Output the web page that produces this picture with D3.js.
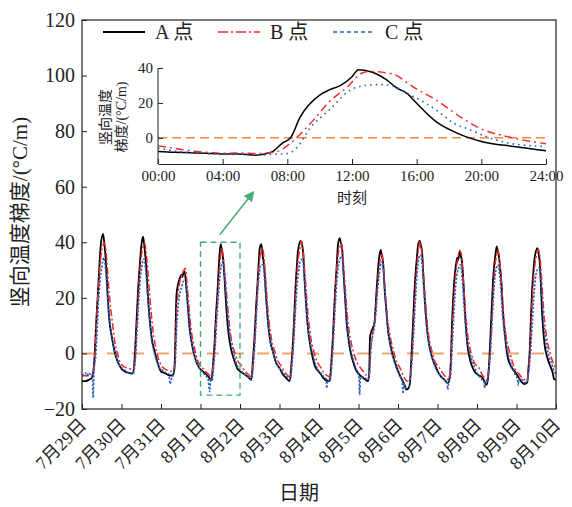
<!DOCTYPE html>
<html>
<head>
<meta charset="utf-8">
<script src="https://cdn.jsdelivr.net/npm/d3@7"></script>
<style>
  body { margin: 0; background: #fff; }
  text { font-family: "Liberation Serif", "Noto Sans CJK SC", serif; fill: #222; }
</style>
</head>
<body>
<svg id="chart"></svg>
<script>
// ---- data ----
const dayLabels = ['7月29日', '7月30日', '7月31日', '8月1日', '8月2日', '8月3日', '8月4日',
  '8月5日', '8月6日', '8月7日', '8月8日', '8月9日', '8月10日']
const mainYTicks = [-20, 0, 20, 40, 60, 80, 100, 120]
const insetYTicks = [0, 20, 40]
const insetXTicks = [0, 4, 8, 12, 16, 20, 24]
const insetXLabels = ['00:00', '04:00', '08:00', '12:00', '16:00', '20:00', '24:00']
const legendNames = ['A 点', 'B 点', 'C 点']

// each day: [hour, gradient]
const aDays = [
  [[0,-10],[2,-10],[4,-9.5],[5.7,-9],[7,-6],[7.7,-0.5],[8.7,12],[9.7,22],[10.6,32],[11.4,39],[12.8,43],[13.5,40],[14.4,34],[15.8,18.7],[16.8,11],[17.9,6.7],[19.5,1.5],[20.9,-1.7],[22.5,-4]],
  [[0,-5.5],[2,-6.5],[5,-7.1],[7,-7.2],[8,-1.7],[9,10],[10,22],[11,31],[12.1,39],[13.1,42],[14,38],[15.1,30.7],[16,21],[17.1,12.7],[18.5,5],[20.2,0.6],[22,-3.5]],
  [[0,-6.5],[2,-7],[4.3,-7.7],[6.3,-8],[7.5,-7.5],[8.3,-4],[9.4,21],[10.4,25],[11.4,27],[12.4,28.3],[13,27.5],[13.6,29],[14.4,29.5],[15.2,25],[16.4,16.3],[17.4,9],[18.5,4.3],[20,0],[21.5,-3],[23,-5]],
  [[1.5,-6.5],[3.5,-7.5],[5,-8.5],[6.6,-9.7],[7.6,-4],[8.6,4.3],[9.4,14],[10.3,22],[11,30],[11.7,36.7],[12.3,39.3],[13,37],[13.7,34.3],[14.7,26],[15.7,16.3],[16.7,9],[17.7,4.3],[19,0.5],[20.8,-3],[22.5,-5.5]],
  [[1.8,-7.1],[4.8,-8.4],[6.9,-9.5],[7.9,-2],[8.9,6.7],[9.8,17],[10.6,24.7],[11.3,32],[12,37.9],[13,39.3],[13.8,35],[14.6,31.9],[15.8,21],[17,11.5],[18.5,4],[20,0.6],[22,-3.5]],
  [[0.1,-5.3],[2,-7.5],[4.1,-8.9],[6.2,-10],[7.2,-4],[8.2,4.3],[9,14],[9.8,24.7],[10.5,31],[11.2,36.7],[12.9,40.5],[14.3,36.7],[15.3,26],[16.3,16.3],[17.3,9],[18.3,4.3],[20,-1],[21.5,-4.5],[23,-6]],
  [[0.7,-7.1],[2.7,-8.9],[4.8,-9.8],[6.5,-10],[7.5,-3],[8.5,6.7],[9.3,17],[10,24.7],[10.8,32],[11.5,39],[12.6,41.5],[13.2,40],[14,37.9],[15,28],[16,18.7],[16.8,11],[17.6,6.7],[19,1],[20.7,-3],[22.5,-6]],
  [[0.7,-7.7],[3.7,-9.2],[5.8,-10],[6.5,-7],[7,6],[7.8,7.9],[9,9.5],[9.8,11.5],[10.3,16],[10.9,22],[11.7,29],[12.5,34.3],[13.5,37.3],[14.2,35],[14.9,33],[16,22],[17,15],[18,8],[19,4.3],[20.5,0],[22,-3]],
  [[1,-7.7],[2.5,-9.5],[4,-11.4],[5,-13],[6.1,-12.7],[7.1,-11.4],[8.1,-2],[9.1,10.3],[9.8,20],[10.6,28.3],[11.4,34],[12.2,39],[13.2,40.5],[13.8,39],[14.6,36.7],[15.6,26],[16.6,16.3],[17.8,8],[19.3,1.9],[21,-2],[23.3,-5.3]],
  [[1.3,-7.7],[4.3,-9.5],[6.3,-10.7],[7.5,-8],[8,-4],[8.8,10.3],[10,24.7],[10.8,30],[11.5,33],[12,34.5],[12.5,33.5],[13.5,36.7],[14.2,35],[14.9,33],[16.1,22],[17,12],[18.2,3],[19.3,-1],[20.6,-4],[22.5,-6.5]],
  [[0.6,-7.7],[3.5,-8.9],[4.5,-10],[5.7,-11.4],[6.7,-8.9],[7.5,-2],[8.3,7.9],[9,17],[9.7,25.9],[10.5,32],[11.2,35.5],[12,38.5],[12.6,37],[13.2,35.5],[14,31],[14.8,25.9],[15.8,15],[16.8,7.9],[17.8,2],[18.8,-1.7],[20.5,-4.5],[22.9,-6.5]],
  [[1.2,-8.5],[2.7,-10],[4.7,-11],[6.5,-10.5],[7.3,-5],[8,0.6],[8.7,12],[9.4,22],[10.2,29],[11,34.3],[12.7,37.9],[13.4,36],[14.1,33],[14.8,25],[15.5,15],[16.3,8],[17.1,3],[18.5,-1],[20.1,-4],[22,-7],[22.8,-9.2],[24,-9.5]]
]

const bDays = [
  [[0,-8],[2,-8],[4,-8],[5.8,-8],[7.2,-5],[8,2],[9,14],[10,24],[11,32],[12,37],[13.5,39.7],[14.5,37],[15.5,30],[16.5,22],[17.5,16],[18.7,10],[20,4],[21.8,-0.5],[23,-3]],
  [[1,-4.5],[3,-5.2],[5,-5.5],[7,-5.8],[8.2,-3],[9,6],[10,18],[11,28],[12,35],[13,38],[14.1,39.7],[15,36],[16,30],[17,22],[18,15],[19,9],[20.5,3],[22,-1],[23.5,-3.5]],
  [[1,-5],[3,-5.8],[5,-6.3],[7,-6.5],[8.4,-4],[9.5,16],[10.5,22],[11.5,26],[12.5,28],[13.5,29.5],[14.8,30.7],[15.7,26],[16.7,19],[17.7,12],[18.7,7],[20,3],[21.5,-1],[23,-3.5]],
  [[1,-5],[3,-6.5],[5,-7.5],[6.7,-8.5],[7.7,-4],[8.7,3],[9.5,12],[10.4,20],[11.2,28],[12,34],[12.8,37.9],[13.6,36],[14.5,31],[15.5,24],[16.5,17],[17.5,11],[18.5,6],[19.5,3],[21,0],[22.5,-2.5]],
  [[1,-4.5],[3,-6.5],[5,-7.5],[7,-8.5],[8,-3],[9,5],[10,16],[11,27],[12,34],[13.5,38],[14.3,36],[15.2,30],[16.2,22],[17.2,14],[18.2,9],[19.5,4],[21,1],[22.5,-2]],
  [[1,-4.5],[3,-6.5],[5,-8],[6.5,-8.5],[7.5,-3],[8.5,5],[9.4,16],[10.3,26],[11.2,33],[12.2,37],[13.5,40.3],[14.4,37],[15.3,30],[16.3,22],[17.3,14],[18.3,9],[19.5,4],[21,0.5],[22.5,-2.5]],
  [[1,-5],[3,-7],[5,-8],[6.7,-8.5],[7.7,-3],[8.7,7],[9.6,18],[10.5,28],[11.5,35],[12.5,38],[13.5,39.7],[14.3,37],[15.3,29],[16.3,21],[17.3,13],[18.3,8],[19.5,4],[21,0.5],[22.5,-2.5]],
  [[1,-5],[3,-6.5],[5,-8],[6.3,-8.5],[7.2,-2],[8,5],[9.2,9],[10.2,13],[11,20],[12,28],[13,33],[14,36.1],[14.8,34],[15.7,27],[16.7,19],[17.7,12],[18.7,8],[20,4],[21.5,0.5],[23,-3]],
  [[1,-5],[2.5,-7],[4,-9],[5.5,-10],[7.3,-9.5],[8.3,-2],[9.3,8],[10.2,20],[11,28],[12,35],[13.5,40.2],[14.3,37],[15.3,30],[16.3,22],[17.3,14],[18.3,8],[19.5,3.5],[21,0],[22.5,-3]],
  [[1,-5],[3,-7],[5,-8.5],[6.5,-9.5],[7.8,-6],[8.6,3],[9.5,15],[10.5,25],[11.3,30],[12.3,34],[13.5,37],[14.4,36],[15.3,30],[16.3,21],[17.3,13],[18.3,7],[19.5,2.5],[21,-1],[22.5,-3.5]],
  [[1,-5],[3,-7.5],[5,-9],[6,-9.5],[7,-6],[7.8,-1],[8.6,6],[9.4,16],[10.2,26],[11,32],[12,35.5],[12.8,37.3],[13.6,34],[14.5,28],[15.5,20],[16.5,12],[17.5,7],[18.7,3],[20,0],[21.5,-3],[23,-5.5]],
  [[1,-7],[3,-8.5],[5,-9.5],[6.5,-9.5],[7.5,-4],[8.3,2],[9.1,13],[10,24],[11,31],[12,35],[13.3,37.3],[14.2,35],[15,29],[16,20],[17,12],[18,7],[19,3.5],[20.5,0],[22,-3],[24,-5.5]]
]

const cDays = [
  [[0,-8],[1,-7.5],[2,-7],[3,-8],[4,-7],[5,-7.5],[6.2,-7],[6.8,-16],[7.3,-6],[8.2,-2],[9,6],[10,18],[11,26],[12,31],[13.2,34.4],[14,32],[15,25],[16,17],[17,11],[18,6],[19.5,2],[21,-1.5],[23,-4.5]],
  [[1,-5.5],[3,-6.5],[5,-7],[7,-7.5],[8.3,-3],[9.3,6],[10.3,17],[11.3,26],[12.3,31],[13.5,34],[14.5,31],[15.5,24],[16.5,16],[17.5,9],[18.5,4],[20,0],[21.5,-3],[23,-5]],
  [[1,-6],[3,-7],[4.8,-7.5],[5.5,-11],[6.2,-9.5],[7.5,-7.5],[8.6,-4],[9.6,10],[10.6,18],[11.6,22],[12.6,24],[13.6,26],[15,26],[16,20],[17,13],[18,7],[19,3],[20.5,-1],[22,-4],[23.5,-5.5]],
  [[1,-6.5],[3,-8],[4.5,-9],[5.6,-13.8],[6.2,-9],[7,-10],[8,-5],[9,3],[10,13],[11,22],[12,29],[13,32.5],[13.8,33],[14.8,27],[15.8,19],[16.8,12],[17.8,7],[19,3],[20.5,-1],[22,-4]],
  [[1,-6.5],[3,-7.5],[5,-8.5],[7,-9.5],[8,-5],[9,3],[10,14],[11,24],[12,30],[13,32],[14,31.9],[15,26],[16,18],[17,11],[18,6],[19.5,2],[21,-1.5],[22.5,-4]],
  [[1,-6],[3,-7.5],[5,-8.5],[6.5,-9.5],[7.5,-5],[8.5,3],[9.5,13],[10.5,23],[11.5,29],[12.5,33],[13.8,34],[14.8,30],[15.8,21],[16.8,13],[17.8,7],[19,3],[20.5,-1],[22,-4],[23.5,-6]],
  [[1,-7],[3,-8.5],[4.2,-9],[4.7,-12.5],[5.2,-9.5],[6.7,-10],[7.7,-5],[8.7,4],[9.7,15],[10.7,25],[11.7,31],[12.7,34],[13.8,35],[14.8,30],[15.8,20],[16.8,12],[17.8,7],[19,2.5],[20.5,-1.5],[22,-4.5],[23.5,-7]],
  [[0.3,-8.5],[0.7,-15],[1.2,-8.5],[3,-8.5],[5.5,-9.5],[6.5,-8],[7.5,2],[8.5,6],[9.5,9],[10.5,14],[11.5,22],[12.5,28],[13.5,32],[14.5,33],[15.3,29],[16.3,20],[17.3,12],[18.3,7],[19.5,2],[21,-1.5],[22.5,-4.5]],
  [[1,-8],[2.5,-10],[3,-14.5],[3.5,-10.5],[4,-11.5],[5,-12.5],[6.5,-12],[7.5,-9],[8.5,-3],[9.5,7],[10.5,18],[11.5,28],[12.5,34],[13.6,35.5],[14.5,33],[15.5,25],[16.5,16],[17.5,9],[18.5,4.5],[20,0],[21.5,-3],[23,-5.5]],
  [[1,-7.5],[3,-9],[5,-10],[5.8,-10.5],[6.2,-13],[6.7,-11],[7.3,-10],[8,-8],[9,3],[10,15],[11,24],[12,29],[13,31],[14,31.9],[15,27],[16,18],[17,10],[18,5],[19.3,1],[21,-2.5],[22.5,-5]],
  [[1,-8],[3,-9.5],[4.2,-10],[4.6,-12.5],[5,-10],[6,-10],[7,-7],[8,-1],[9,10],[10,20],[11,28],[12,31],[12.8,31.9],[13.6,29],[14.5,23],[15.5,14],[16.5,8],[17.5,4],[18.8,0],[20.5,-3.5],[22,-6],[23.5,-8]],
  [[0.5,-9],[1,-11.5],[1.5,-9],[3.5,-9.5],[5,-10.5],[6.5,-10],[7.5,-6],[8.5,0],[9.5,10],[10.5,20],[11.5,27],[12.5,30],[13.8,30.8],[14.6,28],[15.5,20],[16.5,11],[17.5,6],[18.5,2],[20,-1.5],[21.5,-4],[23,-6.5],[24,-7.5]]
]

// inset: one day (8/1), [hour, gradient]
const insetA = [[0,-7.8],[1,-8.3],[2,-8.5],[3,-8.8],[4,-9.3],[5,-9.2],[6,-10],[7,-8.3],[7.7,-3],[8.2,0],[8.8,12],[10,24.5],[10.6,27.5],[11.3,30],[12,35],[12.4,39],[13.1,38],[14.1,33.5],[14.8,28.4],[15.4,25.5],[16,19.8],[17.2,9.3],[18.5,2.7],[20,-2.1],[22,-5],[24,-7.4]]
const insetB = [[0,-4.6],[1,-6],[2,-7.5],[3,-8.3],[4,-8.8],[5,-8.7],[6,-9],[7,-8.5],[7.6,-7],[8.2,-3],[9.6,10],[10.6,20.7],[11.7,29],[12.6,37],[13.1,38],[14.5,36.6],[15.8,29],[17.2,21.7],[18.7,12],[19.9,5.5],[21.6,0.7],[24,-3.4]]
const insetC = [[0,-6],[1,-7.5],[2,-8.5],[3,-9],[4,-9.5],[5,-9.3],[6,-10],[7,-9.5],[8,-9],[8.6,-5.5],[9.4,5.5],[10.6,16],[11.9,27.4],[12.8,30],[13.7,30.5],[14.5,29.7],[15.4,25.5],[16.2,21.7],[17.2,16],[18.3,8.4],[19.3,4.6],[20.3,0.7],[21.9,-3.4],[23.6,-4.8],[24,-5]]

// zoomed window and arrow (in data units: [day, hour, value])
const boxDay = 3
const boxRange = [-15, 40]
const arrowFrom = [3, 11.7, 42.7]
const arrowTo = [4, 8.3, 58.2]

// ---- layout ----
const width = 572
const height = 507
const plotLeft = 82, plotRight = 556, plotTop = 20, plotBottom = 409

const svg = d3.select('#chart')
  .attr('width', width)
  .attr('height', height)

const flatten = days => days.flatMap((pts, d) => pts.map(p => [d * 24 + p[0], p[1]]))

const x = d3.scaleLinear().domain([0, 288]).range([plotLeft, plotRight])
const y = d3.scaleLinear().domain([-20, 120]).range([plotBottom, plotTop])

const seriesStyle = [
  { name: legendNames[0], data: flatten(aDays), color: '#000', width: 1.8, dash: null },
  { name: legendNames[1], data: flatten(bDays), color: '#f0282a', width: 1.5, dash: '7,2.5,2,2.5' },
  { name: legendNames[2], data: flatten(cDays), color: '#2d5fbf', width: 1.6, dash: '2.2,1.6' }
]

svg.append('clipPath').attr('id', 'plot-clip')
  .append('rect').attr('x', plotLeft).attr('y', plotTop)
  .attr('width', plotRight - plotLeft).attr('height', plotBottom - plotTop)

// zero line
svg.append('line')
  .attr('x1', plotLeft).attr('x2', plotRight)
  .attr('y1', y(0)).attr('y2', y(0))
  .attr('stroke', '#f2a46e')
  .attr('stroke-width', 2)
  .attr('stroke-dasharray', '12,13')

const line = d3.line()
  .x(d => x(d[0]))
  .y(d => y(d[1]))
  .curve(d3.curveMonotoneX)

svg.append('g').attr('clip-path', 'url(#plot-clip)')
  .selectAll('path')
  .data(seriesStyle)
  .join('path')
    .attr('d', d => line(d.data))
    .attr('fill', 'none')
    .attr('stroke', d => d.color)
    .attr('stroke-width', d => d.width)
    .attr('stroke-dasharray', d => d.dash)
    .attr('stroke-linejoin', 'round')

// frame
svg.append('rect')
  .attr('x', plotLeft).attr('y', plotTop)
  .attr('width', plotRight - plotLeft).attr('height', plotBottom - plotTop)
  .attr('fill', 'none').attr('stroke', '#222').attr('stroke-width', 1.2)

// axes
const yAxis = svg.append('g')
  .attr('transform', `translate(${plotLeft},0)`)
  .call(d3.axisLeft(y).tickValues(mainYTicks).tickSize(-5).tickSizeOuter(0).tickPadding(7))
yAxis.select('.domain').remove()
yAxis.selectAll('text').style('font-size', '20px').attr('fill', '#222')
yAxis.selectAll('line').attr('stroke', '#222')

const xAxis = svg.append('g')
  .attr('transform', `translate(0,${plotBottom})`)
  .call(d3.axisBottom(x).tickValues(d3.range(0, 289, 24)).tickSize(-5).tickSizeOuter(0)
    .tickFormat((d, i) => dayLabels[i]))
xAxis.select('.domain').remove()
xAxis.selectAll('line').attr('stroke', '#222')
xAxis.selectAll('text')
  .attr('x', 0).attr('y', 0).attr('dy', 0)
  .attr('transform', 'translate(5,17) rotate(-45)')
  .style('text-anchor', 'end')
  .style('font-size', '18px')
  .attr('fill', '#222')

svg.append('text')
  .attr('x', (plotLeft + plotRight) / 2 - 20).attr('y', 500)
  .attr('text-anchor', 'middle')
  .style('font-size', '20px')
  .text('日期')

svg.append('text')
  .attr('transform', `translate(27,212) rotate(-90)`)
  .attr('text-anchor', 'middle')
  .style('font-size', '21px')
  .text('竖向温度梯度/(°C/m)')

// legend
const legendX = [103, 218, 333]
const legend = svg.append('g').selectAll('g')
  .data(seriesStyle)
  .join('g')
    .attr('transform', (d, i) => `translate(${legendX[i]},32)`)
legend.append('line')
  .attr('x1', 0).attr('x2', 42)
  .attr('stroke', d => d.color)
  .attr('stroke-width', d => d.width)
  .attr('stroke-dasharray', (d, i) => i === 1 ? '10,3,2,3' : i === 2 ? '4,3' : null)
legend.append('text')
  .attr('x', 52).attr('y', 7)
  .style('font-size', '20px')
  .text(d => d.name)

// zoom box + arrow
const green = '#48ad70'
svg.append('rect')
  .attr('x', x(boxDay * 24)).attr('y', y(boxRange[1]))
  .attr('width', x((boxDay + 1) * 24) - x(boxDay * 24))
  .attr('height', y(boxRange[0]) - y(boxRange[1]))
  .attr('fill', 'none').attr('stroke', green)
  .attr('stroke-width', 1.4).attr('stroke-dasharray', '6,4')

svg.append('defs').append('marker')
  .attr('id', 'arrow-head')
  .attr('viewBox', '0 0 10 10')
  .attr('refX', 9).attr('refY', 5)
  .attr('markerWidth', 7).attr('markerHeight', 7)
  .attr('orient', 'auto')
  .append('path').attr('d', 'M0,0L10,5L0,10Z').attr('fill', green)

svg.append('line')
  .attr('x1', x(arrowFrom[0] * 24 + arrowFrom[1])).attr('y1', y(arrowFrom[2]))
  .attr('x2', x(arrowTo[0] * 24 + arrowTo[1])).attr('y2', y(arrowTo[2]))
  .attr('stroke', green).attr('stroke-width', 1.5)
  .attr('marker-end', 'url(#arrow-head)')

// ---- inset ----
const ix = d3.scaleLinear().domain([0, 24]).range([158, 546])
const iy = d3.scaleLinear().domain([-15, 40]).range([164, 68])

svg.append('line')
  .attr('x1', ix(0)).attr('x2', ix(24))
  .attr('y1', iy(0)).attr('y2', iy(0))
  .attr('stroke', '#f08a40').attr('stroke-width', 1.5)
  .attr('stroke-dasharray', '9,5')

const insetLine = d3.line()
  .x(d => ix(d[0]))
  .y(d => iy(d[1]))
  .curve(d3.curveMonotoneX)

const insetSeries = [
  { data: insetA, color: '#000', width: 1.5, dash: null },
  { data: insetB, color: '#f0282a', width: 1.4, dash: '8,4,2,4' },
  { data: insetC, color: '#2d5fbf', width: 1.6, dash: '1.6,4' }
]
svg.append('g').selectAll('path')
  .data(insetSeries)
  .join('path')
    .attr('d', d => insetLine(d.data))
    .attr('fill', 'none')
    .attr('stroke', d => d.color)
    .attr('stroke-width', d => d.width)
    .attr('stroke-dasharray', d => d.dash)

const iyAxis = svg.append('g')
  .attr('transform', `translate(${ix(0)},0)`)
  .call(d3.axisLeft(iy).tickValues(insetYTicks).tickSize(-5).tickSizeOuter(0).tickPadding(5))
iyAxis.select('.domain').attr('d', `M0,${iy(-15)}V${iy(40)}`).attr('stroke', '#222')
iyAxis.selectAll('text').style('font-size', '15px').attr('fill', '#222')
iyAxis.selectAll('line').attr('stroke', '#222')

const ixAxis = svg.append('g')
  .attr('transform', `translate(0,${iy(-15)})`)
  .call(d3.axisBottom(ix).tickValues(insetXTicks).tickSize(-5).tickSizeOuter(0).tickPadding(6)
    .tickFormat((d, i) => insetXLabels[i]))
ixAxis.select('.domain').attr('stroke', '#222')
ixAxis.selectAll('text').style('font-size', '15px').attr('fill', '#222')
ixAxis.selectAll('line').attr('stroke', '#222')

svg.append('text')
  .attr('x', ix(12)).attr('y', 203)
  .attr('text-anchor', 'middle')
  .style('font-size', '15px')
  .text('时刻')

const insetTitle = svg.append('text')
  .attr('transform', 'translate(110,117) rotate(-90)')
  .attr('text-anchor', 'middle')
  .style('font-size', '14px')
insetTitle.append('tspan').attr('x', 0).attr('dy', 0).text('竖向温度')
insetTitle.append('tspan').attr('x', 0).attr('dy', 16).text('梯度/(°C/m)')
</script>
</body>
</html>
